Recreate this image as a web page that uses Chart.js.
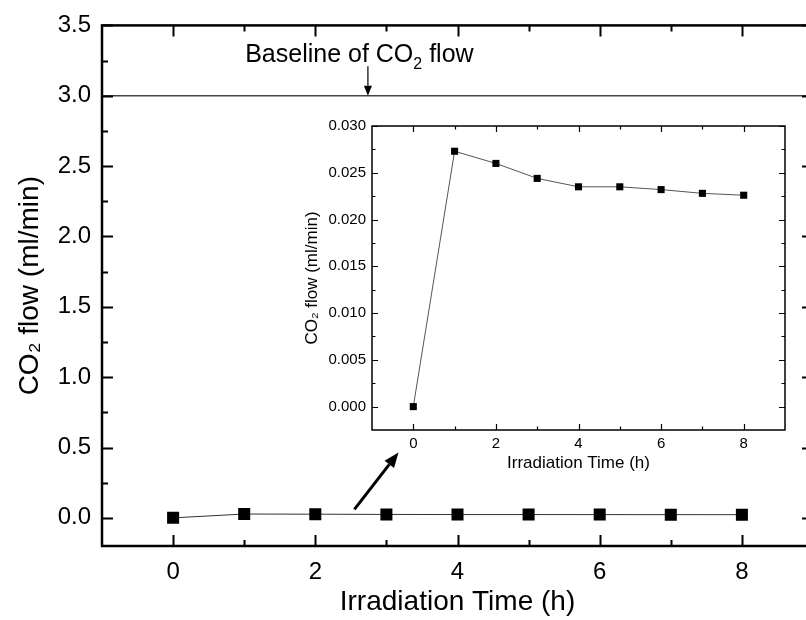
<!DOCTYPE html>
<html>
<head>
<meta charset="utf-8">
<script src="https://cdn.jsdelivr.net/npm/chart.js@4"></script>
<style>
  html, body { margin: 0; padding: 0; background: #fff; overflow: hidden; }
  #wrap { position: relative; width: 806px; height: 620px; overflow: hidden; }
  #mainChart { position: absolute; left: 0; top: 0; }
  #insetChart { position: absolute; left: 280px; top: 110px; }
</style>
</head>
<body>
<div id="wrap">
  <canvas id="mainChart" width="830" height="620"></canvas>
  <canvas id="insetChart" width="520" height="370"></canvas>
</div>
<script>
// CO2 flow measured during irradiation
const hours = [0, 1, 2, 3, 4, 5, 6, 7, 8];
const co2Flow = [0, 0.0273, 0.0260, 0.0244, 0.0235, 0.0235, 0.0232, 0.0228, 0.0226];
const baselineFlow = 3.0;
const baselineSpan = [-1, 9];

// axis ticks
const xMajor = [0, 2, 4, 6, 8];
const xMinor = [1, 3, 5, 7];
const mainYMajor = [0, 0.5, 1.0, 1.5, 2.0, 2.5, 3.0, 3.5];
const mainYMinor = [0.25, 0.75, 1.25, 1.75, 2.25, 2.75, 3.25];
const insetYMajor = [0, 0.005, 0.010, 0.015, 0.020, 0.025, 0.030];
const insetYMinor = [0.0025, 0.0075, 0.0125, 0.0175, 0.0225, 0.0275];

const FONT = "'Liberation Sans', Arial, Helvetica, sans-serif";
Chart.defaults.font.family = FONT;
Chart.defaults.color = '#000';

const points = hours.map((h, i) => ({ x: h, y: co2Flow[i] }));

// box around the plot with inward ticks on all four sides
const frameTicks = {
  id: 'frameTicks',
  afterDraw(chart, args, o) {
    const { ctx, chartArea: a, scales: { x, y } } = chart;
    ctx.save();
    ctx.strokeStyle = '#000';
    ctx.lineWidth = o.tickWidth;
    ctx.beginPath();
    const vx = (vals, len) => vals.forEach(v => {
      const px = Math.round(x.getPixelForValue(v)) + 0.5;
      ctx.moveTo(px, a.bottom); ctx.lineTo(px, a.bottom - len);
      ctx.moveTo(px, a.top); ctx.lineTo(px, a.top + len);
    });
    const vy = (vals, len) => vals.forEach(v => {
      const py = Math.round(y.getPixelForValue(v)) + 0.5;
      ctx.moveTo(a.left, py); ctx.lineTo(a.left + len, py);
      ctx.moveTo(a.right, py); ctx.lineTo(a.right - len, py);
    });
    vx(o.xMajor, o.major); vx(o.xMinor, o.minor);
    vy(o.yMajor, o.major); vy(o.yMinor, o.minor);
    ctx.stroke();
    ctx.lineWidth = o.borderWidth;
    ctx.strokeRect(a.left, a.top, a.right - a.left, a.bottom - a.top);
    ctx.restore();
  }
};

function arrow(ctx, x1, y1, x2, y2, head, half, lw) {
  const ang = Math.atan2(y2 - y1, x2 - x1);
  const bx = x2 - head * Math.cos(ang), by = y2 - head * Math.sin(ang);
  ctx.lineWidth = lw;
  ctx.beginPath();
  ctx.moveTo(x1, y1); ctx.lineTo(bx, by);
  ctx.stroke();
  ctx.beginPath();
  ctx.moveTo(x2, y2);
  ctx.lineTo(bx + half * Math.sin(ang), by - half * Math.cos(ang));
  ctx.lineTo(bx - half * Math.sin(ang), by + half * Math.cos(ang));
  ctx.closePath();
  ctx.fill();
}

// baseline label and the arrow pointing at the inset
const notes = {
  id: 'notes',
  afterDraw(chart) {
    const { ctx, scales: { x, y } } = chart;
    ctx.save();
    ctx.fillStyle = '#000';
    ctx.strokeStyle = '#000';

    // "Baseline of CO2 flow" with subscript
    const size = 25;
    const parts = [['Baseline of CO', size, 0], ['2', 16, 7], [' flow', size, 0]];
    ctx.textBaseline = 'alphabetic';
    let total = 0;
    parts.forEach(p => { ctx.font = p[1] + 'px ' + FONT; total += ctx.measureText(p[0]).width; });
    let tx = x.getPixelForValue(2.62) - total / 2;
    const ty = y.getPixelForValue(3.24);
    parts.forEach(p => {
      ctx.font = p[1] + 'px ' + FONT;
      ctx.fillText(p[0], tx, ty + p[2]);
      tx += ctx.measureText(p[0]).width;
    });

    const ax = x.getPixelForValue(2.74);
    arrow(ctx, ax, y.getPixelForValue(3.21), ax, y.getPixelForValue(baselineFlow), 10, 4, 1.2);
    arrow(ctx, x.getPixelForValue(2.55), y.getPixelForValue(0.06),
          x.getPixelForValue(3.17), y.getPixelForValue(0.465), 15, 6, 3);
    ctx.restore();
  }
};

new Chart(document.getElementById('mainChart'), {
  type: 'line',
  data: {
    datasets: [{
      data: points,
      borderColor: '#333',
      borderWidth: 1,
      pointStyle: 'rect',
      pointRadius: 8.5,
      pointBackgroundColor: '#000',
      pointBorderColor: '#000',
      pointBorderWidth: 0
    }, {
      data: baselineSpan.map(h => ({ x: h, y: baselineFlow })),
      borderColor: '#444',
      borderWidth: 1.5,
      pointRadius: 0
    }]
  },
  options: {
    responsive: false,
    animation: false,
    layout: { padding: { top: 23, right: 17, left: 0, bottom: 0 } },
    plugins: {
      legend: { display: false },
      tooltip: { enabled: false },
      frameTicks: { xMajor: xMajor, xMinor: xMinor, yMajor: mainYMajor, yMinor: mainYMinor,
                    major: 11, minor: 6, tickWidth: 2, borderWidth: 2.5 }
    },
    scales: {
      x: {
        type: 'linear', min: -1, max: 9,
        grid: { display: false, drawTicks: false },
        border: { display: false },
        afterBuildTicks: s => { s.ticks = xMajor.map(v => ({ value: v })); },
        afterFit: s => { s.height = 74; },
        ticks: { autoSkip: false, maxRotation: 0, padding: 12, font: { size: 24 } },
        title: { display: true, text: 'Irradiation Time (h)', font: { size: 28 }, padding: { top: 0, bottom: 1 } }
      },
      y: {
        type: 'linear', min: -0.2, max: 3.5,
        grid: { display: false, drawTicks: false },
        border: { display: false },
        afterBuildTicks: s => { s.ticks = mainYMajor.map(v => ({ value: v })); },
        afterFit: s => { s.width = 102; },
        ticks: { autoSkip: false, padding: 11, font: { size: 24 }, callback: v => v.toFixed(1) },
        title: { display: true, text: 'CO₂ flow (ml/min)', font: { size: 28 }, padding: { top: 13, bottom: 0 } }
      }
    }
  },
  plugins: [frameTicks, notes]
});

new Chart(document.getElementById('insetChart'), {
  type: 'line',
  data: {
    datasets: [{
      data: points,
      borderColor: '#555',
      borderWidth: 1,
      pointStyle: 'rect',
      pointRadius: 5,
      pointBackgroundColor: '#000',
      pointBorderColor: '#000',
      pointBorderWidth: 0
    }]
  },
  options: {
    responsive: false,
    animation: false,
    layout: { padding: { top: 16, right: 15, left: 0, bottom: 0 } },
    plugins: {
      legend: { display: false },
      tooltip: { enabled: false },
      frameTicks: { xMajor: xMajor, xMinor: xMinor, yMajor: insetYMajor, yMinor: insetYMinor,
                    major: 6, minor: 3.5, tickWidth: 1.2, borderWidth: 1.5 }
    },
    scales: {
      x: {
        type: 'linear', min: -1, max: 9,
        grid: { display: false, drawTicks: false },
        border: { display: false },
        afterBuildTicks: s => { s.ticks = xMajor.map(v => ({ value: v })); },
        afterFit: s => { s.height = 50; },
        ticks: { autoSkip: false, maxRotation: 0, padding: 5, font: { size: 15 } },
        title: { display: true, text: 'Irradiation Time (h)', font: { size: 17 }, padding: { top: 0, bottom: 6 } }
      },
      y: {
        type: 'linear', min: -0.0025, max: 0.030,
        grid: { display: false, drawTicks: false },
        border: { display: false },
        afterBuildTicks: s => { s.ticks = insetYMajor.map(v => ({ value: v })); },
        afterFit: s => { s.width = 92; },
        ticks: { autoSkip: false, padding: 6, font: { size: 15 }, callback: v => v.toFixed(3) },
        title: { display: true, text: 'CO₂ flow (ml/min)', font: { size: 17 }, padding: { top: 22, bottom: 0 } }
      }
    }
  },
  plugins: [frameTicks]
});
</script>
</body>
</html>
